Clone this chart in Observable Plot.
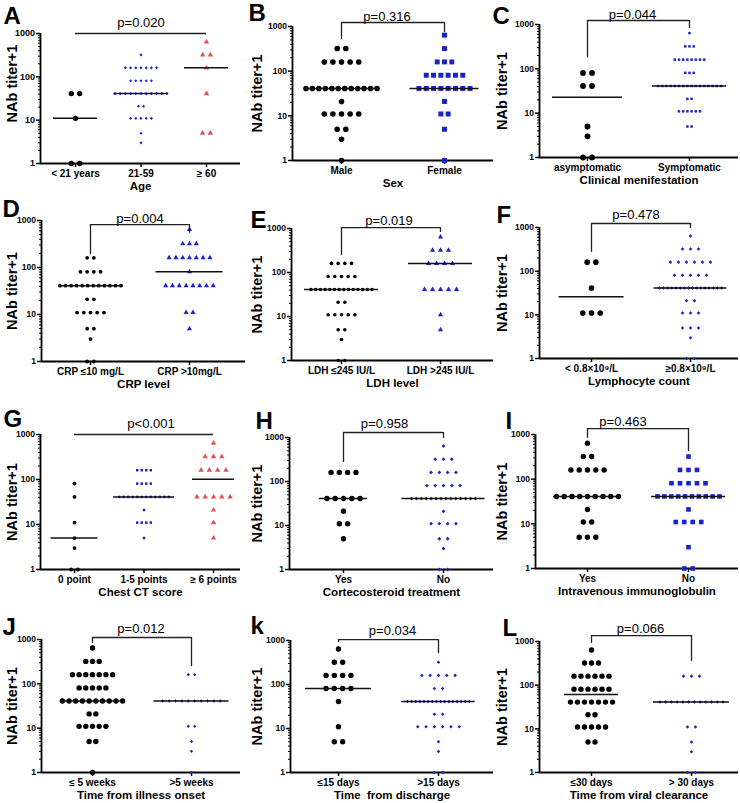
<!DOCTYPE html>
<html><head><meta charset="utf-8">
<script src="https://cdn.jsdelivr.net/npm/d3@7"></script>
<script src="https://cdn.jsdelivr.net/npm/@observablehq/plot@0.6"></script>
<style>
body{margin:0;background:#fff;}
#chart{position:relative;width:740px;height:803px;overflow:hidden;background:#fff;}
#chart svg{position:absolute;overflow:visible;background:transparent;max-width:none;}
</style></head><body><div id="chart"></div>
<script>
// titer+1 levels used by every panel
const levels = [1, 3, 5, 11, 21, 41, 81, 161, 321, 641];
const yTicks = [1, 10, 100, 1000];
const yMinor = [2,3,4,5,6,7,8,9,20,30,40,50,60,70,80,90,200,300,400,500,600,700,800,900];
const yLabel = "NAb titer+1";

// counts per level (same order as `levels`)
const A_groups = ["< 21 years", "21-59", "≥ 60"];
const A_counts = [[2,0,0,1,0,2,0,0,0,0],[0,1,1,5,2,11,5,7,1,0],[0,0,2,0,0,1,0,1,2,1]];
const A_medians = [11, 41, 161];
const A_title = "Age", A_p = "p=0.020";

const B_groups = ["Male", "Female"];
const B_counts = [[1,1,2,5,1,12,0,5,2,0],[1,0,1,2,1,8,6,3,1,1]];
const B_medians = [41, 41];
const B_title = "Sex", B_p = "p=0.316";

const C_groups = ["asymptomatic", "Symptomatic"];
const C_counts = [[2,1,1,0,0,2,2,0,0,0],[0,0,2,6,2,16,3,8,3,1]];
const C_medians = [23, 41];
const C_title = "Clinical menifestation", C_p = "p=0.044";

const D_groups = ["CRP ≤10 mg/L", "CRP >10mg/L"];
const D_counts = [[2,1,2,5,2,12,4,2,0,0],[0,0,1,2,0,8,1,7,3,1]];
const D_medians = [41, 81];
const D_title = "CRP level", D_p = "p=0.004";

const E_groups = ["LDH ≤245 IU/L", "LDH >245 IU/L"];
const E_counts = [[2,1,2,5,2,14,5,4,0,0],[0,0,1,1,0,5,0,4,3,1]];
const E_medians = [41, 161];
const E_title = "LDH level", E_p = "p=0.019";

const F_groups = ["< 0.8×10⁹/L", "≥0.8×10⁹/L"];
const F_counts = [[0,0,0,3,0,1,0,2,0,0],[2,1,3,3,2,16,5,6,3,1]];
const F_medians = [26, 41];
const F_title = "Lymphocyte count", F_p = "p=0.478";

const G_groups = ["0 point", "1-5 points", "≥ 6 points"];
const G_counts = [[2,1,1,1,0,1,1,0,0,0],[0,0,1,4,1,12,4,4,0,0],[0,0,1,1,1,5,0,4,3,1]];
const G_medians = [5, 41, 101];
const G_title = "Chest CT score", G_p = "p<0.001";

const H_groups = ["Yes", "No"];
const H_counts = [[0,0,1,2,1,5,0,4,0,0],[2,1,2,4,1,14,5,4,3,1]];
const H_medians = [41, 41];
const H_title = "Cortecosteroid treatment", H_p = "p=0.958";

const I_groups = ["Yes", "No"];
const I_counts = [[0,0,3,2,1,9,0,5,2,1],[2,1,0,4,1,10,5,3,1,0]];
const I_medians = [41, 41];
const I_title = "Intravenous immunoglobulin", I_p = "p=0.463";

const J_groups = ["≤ 5 weeks", ">5 weeks"];
const J_counts = [[1,0,2,5,2,10,5,7,3,1],[1,1,1,2,0,10,0,2,0,0]];
const J_medians = [41, 41];
const J_title = "Time from illness onset", J_p = "p=0.012";

const K_groups = ["≤15 days", ">15 days"];
const K_counts = [[0,0,2,1,0,1,4,4,2,1],[2,1,1,6,2,16,2,5,1,0]];
const K_medians = [81, 41];
const K_title = "Time  from discharge", K_p = "p=0.034";

const L_groups = ["≤30 days", "> 30 days"];
const L_counts = [[0,0,2,5,2,7,6,6,3,1],[2,1,1,2,0,12,0,3,0,0]];
const L_medians = [61, 41];
const L_title = "Time from viral clearance", L_p = "p=0.066";

// ---------- layout / style ----------
const K0 = "#000000", BL = "#1a22c8", RD = "#e3524e";
const layout = {
  A:{px:0,py:0,h:200,L:40,R:240,yTop:33,yBot:163,c0:75,s:65.5,lx:3,ly:23,yls:-15,yfs:9,
     shapes:["circle","diamond2","triangle"],colors:[K0,BL,RD],r:[2.7,1.4,2.0],sp:[8.3,5.2,7.7],maxW:52,
     medHalf:[22,27,22],br:{top:1000,from:0,to:2,legs:null},pDy:-11,pShift:0},
  B:{px:245,py:0,h:195,L:47,R:248,yTop:26,yBot:160,c0:96,s:103,lx:3,ly:20,yls:0,yfs:8.5,
     shapes:["circle","square"],colors:[K0,BL],r:[2.8,2.8],sp:[8.6,7.3],maxW:71,
     medHalf:[37,34.5],br:{top:1230,from:0,to:1,legs:[513,735]},pDy:-6,pShift:-6},
  C:{px:490,py:0,h:195,L:49,R:248,yTop:24,yBot:157,c0:97,s:102,lx:2,ly:23,yls:0,yfs:8.5,
     shapes:["circle","square"],colors:[K0,BL],r:[2.9,1.4],sp:[9,4.2],maxW:63,
     medHalf:[35,37],br:{top:1230,from:0,to:1,legs:[177,813]},pDy:-6,pShift:-6},
  D:{px:0,py:195,h:200,L:41,R:245,yTop:25,yBot:166,c0:90,s:99,lx:2,ly:21,yls:0,yfs:8.5,
     shapes:["circle","triangle"],colors:[K0,BL],r:[1.9,1.9],sp:[6.7,6.8],maxW:61,
     medHalf:[31.5,33.5],br:{top:820,from:0,to:1,legs:[187,535]},pDy:-6,pShift:0},
  E:{px:245,py:195,h:200,L:46,R:248,yTop:33,yBot:165,c0:96,s:99,lx:5,ly:32,yls:0,yfs:8.5,
     shapes:["circle","triangle"],colors:[K0,BL],r:[1.8,1.9],sp:[6.7,8],maxW:61,
     medHalf:[37,32],br:{top:1050,from:0,to:1,legs:[245,810]},pDy:-7,pShift:-2},
  F:{px:490,py:195,h:200,L:49,R:248,yTop:32,yBot:163,c0:101,s:99,lx:6,ly:27,yls:0,yfs:8.5,
     shapes:["circle","diamond2"],colors:[K0,BL],r:[2.8,1.6],sp:[8.7,8],maxW:62,
     medHalf:[32.5,36.5],br:{top:1235,from:0,to:1,legs:[270,950]},pDy:-9,pShift:-5},
  G:{px:0,py:395,h:205,L:40,R:240,yTop:39,yBot:174,c0:74,s:69.5,lx:3,ly:31,yls:0,yfs:8.5,
     shapes:["circle","square","triangle"],colors:[K0,BL,RD],r:[1.9,1.4,2.0],sp:[6.7,4.5,8.3],maxW:53,
     medHalf:[23.5,30.5,21],br:{top:1000,from:0,to:2,legs:null},pDy:-11,pShift:7},
  H:{px:245,py:395,h:205,L:44,R:248,yTop:42,yBot:174,c0:98,s:100,lx:10,ly:33,yls:0,yfs:8.5,
     shapes:["circle","diamond2"],colors:[K0,BL],r:[2.7,1.7],sp:[8.3,8.3],maxW:64,
     medHalf:[24,41.5],br:{top:1300,from:0,to:1,legs:[270,950]},pDy:-9,pShift:-9},
  I:{px:490,py:395,h:205,L:45,R:248,yTop:39,yBot:173,c0:97,s:101,lx:15,ly:33,yls:0,yfs:8.5,
     shapes:["circle","square"],colors:[K0,BL],r:[2.7,2.6],sp:[8.3,8.5],maxW:62,
     medHalf:[34,37],br:{top:1360,from:0,to:1,legs:[820,417]},pDy:-7,pShift:-15},
  J:{px:0,py:600,h:203,L:41,R:240,yTop:39,yBot:172,c0:92,s:99,lx:2,ly:34,yls:0,yfs:8.5,
     shapes:["circle","diamond2"],colors:[K0,BL],r:[2.7,1.5],sp:[6.7,6.4],maxW:62,
     medHalf:[31,37.5],br:{top:1110,from:0,to:1,legs:[810,245]},pDy:-9,pShift:-1},
  K:{px:245,py:600,h:203,L:45,R:248,yTop:40,yBot:172,c0:93,s:100,lx:5,ly:33,yls:0,yfs:8.5,
     shapes:["circle","diamond2"],colors:[K0,BL],r:[2.7,1.6],sp:[8.3,8.3],maxW:62,
     medHalf:[33,36.7],br:{top:1050,from:0,to:1,legs:[900,500]},pDy:-9,pShift:4},
  L:{px:490,py:600,h:203,L:49,R:248,yTop:41,yBot:172,c0:101,s:100,lx:12,ly:35,yls:0,yfs:8.5,
     shapes:["circle","diamond2"],colors:[K0,BL],r:[2.7,1.6],sp:[7,8],maxW:63,
     medHalf:[27,38],br:{top:1370,from:0,to:1,legs:[900,350]},pDy:-7,pShift:-1}
};
const FONT = "'Liberation Sans', Arial, Helvetica, sans-serif";
const chart = document.getElementById("chart");

function panel(key, letter, groups, counts, medians, title, pText) {
  const c = layout[key];
  const n = groups.length;
  const lo = (c.L - c.c0) / c.s, hi = (c.R - c.c0) / c.s;
  const W = 252, H = c.h;
  const pts = [];
  counts.forEach((row, g) => row.forEach((k, li) => {
    if (!k) return;
    const sp = k > 1 ? Math.min(c.sp[g], c.maxW / (k - 1)) : 0;
    for (let j = 0; j < k; j++) pts.push({g, v: levels[li], x: g + (j - (k - 1) / 2) * sp / c.s});
  }));
  const meds = medians.map((v, g) => ({v, x1: g - c.medHalf[g] / c.s, x2: g + c.medHalf[g] / c.s}));
  const b = c.br;
  const marks = [
    Plot.axisY({ticks: yMinor, tickSize: 2, tickFormat: () => "", label: null, strokeWidth: 1}),
    Plot.axisY({ticks: yTicks, tickSize: 4, tickPadding: 1.5, tickFormat: d3.format("d"), label: null,
                fontSize: c.yfs, fontWeight: "bold", strokeWidth: 1.5}),
    Plot.axisX({ticks: d3.range(n), tickSize: 4, tickPadding: 2, tickFormat: i => groups[i], label: null,
                fontSize: 10, fontWeight: "bold", strokeWidth: 1.5}),
    Plot.ruleX([lo], {y1: 1, y2: 1000, strokeWidth: 1.8}),
    Plot.ruleY([1], {x1: lo, x2: hi, strokeWidth: 1.8}),
    Plot.text([title], {frameAnchor: "bottom", textAnchor: "middle", dy: 26, fontSize: 11.5, fontWeight: "bold"}),
    Plot.text([yLabel], {frameAnchor: "left", textAnchor: "middle", rotate: -90, dx: 12 - c.L, dy: c.yls,
                         fontSize: 14.5, fontWeight: "bold"}),
    Plot.text([letter], {frameAnchor: "top-left", textAnchor: "start", lineAnchor: "top",
                         dx: c.lx - c.L, dy: (c.ly - 17) - c.yTop, fontSize: 24, fontWeight: "bold"})
  ];
  groups.forEach((_, g) => marks.push(Plot.dot(pts.filter(d => d.g === g),
      {x: "x", y: "v", symbol: c.shapes[g], fill: c.colors[g], r: c.r[g]})));
  marks.push(Plot.ruleY(meds, {y: "v", x1: "x1", x2: "x2", stroke: "#111", strokeWidth: 1.5}));
  marks.push(Plot.ruleY([b.top], {x1: b.from, x2: b.to, stroke: "#222", strokeWidth: 1.3}));
  if (b.legs) marks.push(Plot.ruleX([{x: b.from, y: b.legs[0]}, {x: b.to, y: b.legs[1]}],
      {x: "x", y1: b.top, y2: "y", stroke: "#222", strokeWidth: 1.3}));
  marks.push(Plot.text([pText], {x: (b.from + b.to) / 2 + c.pShift / c.s, y: b.top, dy: c.pDy, fontSize: 13}));
  const svg = Plot.plot({
    width: W, height: H,
    marginLeft: c.L, marginRight: W - c.R, marginTop: c.yTop, marginBottom: H - c.yBot,
    x: {type: "linear", domain: [lo, hi]},
    y: {type: "log", domain: [1, 1000]},
    style: {fontFamily: FONT, background: "transparent", overflow: "visible", color: "#000"},
    marks
  });
  svg.style.left = c.px + "px";
  svg.style.top = c.py + "px";
  chart.append(svg);
}

panel("A", "A", A_groups, A_counts, A_medians, A_title, A_p);
panel("B", "B", B_groups, B_counts, B_medians, B_title, B_p);
panel("C", "C", C_groups, C_counts, C_medians, C_title, C_p);
panel("D", "D", D_groups, D_counts, D_medians, D_title, D_p);
panel("E", "E", E_groups, E_counts, E_medians, E_title, E_p);
panel("F", "F", F_groups, F_counts, F_medians, F_title, F_p);
panel("G", "G", G_groups, G_counts, G_medians, G_title, G_p);
panel("H", "H", H_groups, H_counts, H_medians, H_title, H_p);
panel("I", "I", I_groups, I_counts, I_medians, I_title, I_p);
panel("J", "J", J_groups, J_counts, J_medians, J_title, J_p);
panel("K", "k", K_groups, K_counts, K_medians, K_title, K_p);
panel("L", "L", L_groups, L_counts, L_medians, L_title, L_p);
</script></body></html>
